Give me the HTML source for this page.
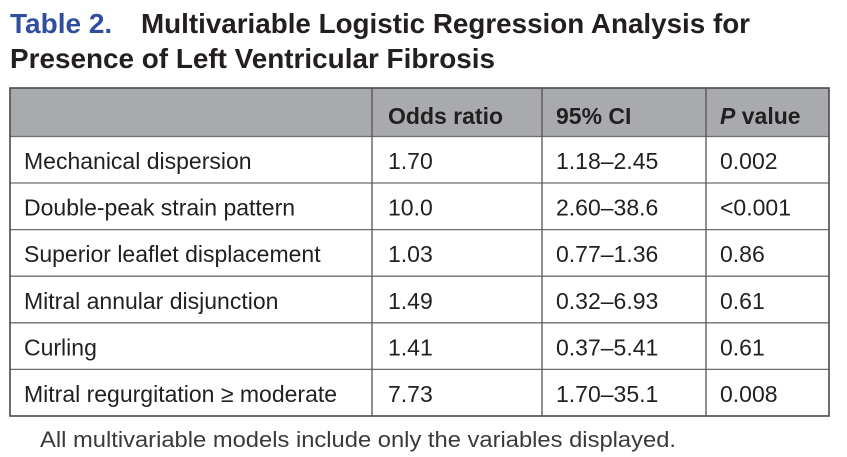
<!DOCTYPE html>
<html>
<head>
<meta charset="utf-8">
<style>
  html,body{margin:0;padding:0;background:#ffffff;}
  body{width:847px;height:457px;overflow:hidden;}
  svg{display:block;}
  text{font-family:"Liberation Sans", Arial, sans-serif;}
</style>
</head>
<body>
<svg width="847" height="457" viewBox="0 0 847 457" xmlns="http://www.w3.org/2000/svg">
  <!-- Title -->
  <text x="10" y="33" font-size="28" font-weight="bold" fill="#2f4f9e">Table 2.</text>
  <text x="141" y="33" font-size="28" font-weight="bold" fill="#231f20" textLength="609" lengthAdjust="spacingAndGlyphs">Multivariable Logistic Regression Analysis for</text>
  <text x="10" y="68" font-size="28" font-weight="bold" fill="#231f20" textLength="485" lengthAdjust="spacingAndGlyphs">Presence of Left Ventricular Fibrosis</text>

  <!-- Header background -->
  <rect x="10" y="88" width="819" height="48.5" fill="#a9aaad"/>

  <!-- Row lines -->
  <g stroke="#6e6e6e" stroke-width="1.3">
    <line x1="10" y1="136.5" x2="829" y2="136.5"/>
    <line x1="10" y1="183" x2="829" y2="183"/>
    <line x1="10" y1="229.6" x2="829" y2="229.6"/>
    <line x1="10" y1="276.2" x2="829" y2="276.2"/>
    <line x1="10" y1="322.8" x2="829" y2="322.8"/>
    <line x1="10" y1="369.4" x2="829" y2="369.4"/>
  </g>
  <!-- Column lines -->
  <g stroke="#555" stroke-width="1.3">
    <line x1="372" y1="88" x2="372" y2="416"/>
    <line x1="542" y1="88" x2="542" y2="416"/>
    <line x1="706" y1="88" x2="706" y2="416"/>
  </g>
  <!-- Outer border -->
  <rect x="10" y="88" width="819" height="328" fill="none" stroke="#4a4a4a" stroke-width="1.6"/>

  <!-- Header text -->
  <g font-size="23" font-weight="bold" fill="#231f20">
    <text x="388" y="124">Odds ratio</text>
    <text x="556" y="124">95% CI</text>
    <text x="720" y="124"><tspan font-style="italic">P</tspan> value</text>
  </g>

  <!-- Body -->
  <g font-size="23" fill="#231f20">
    <text x="24" y="169">Mechanical dispersion</text>
    <text x="388" y="169">1.70</text>
    <text x="556" y="169">1.18–2.45</text>
    <text x="720" y="169">0.002</text>

    <text x="24" y="215.6">Double-peak strain pattern</text>
    <text x="388" y="215.6">10.0</text>
    <text x="556" y="215.6">2.60–38.6</text>
    <text x="720" y="215.6">&lt;0.001</text>

    <text x="24" y="262.2">Superior leaflet displacement</text>
    <text x="388" y="262.2">1.03</text>
    <text x="556" y="262.2">0.77–1.36</text>
    <text x="720" y="262.2">0.86</text>

    <text x="24" y="308.8">Mitral annular disjunction</text>
    <text x="388" y="308.8">1.49</text>
    <text x="556" y="308.8">0.32–6.93</text>
    <text x="720" y="308.8">0.61</text>

    <text x="24" y="355.4">Curling</text>
    <text x="388" y="355.4">1.41</text>
    <text x="556" y="355.4">0.37–5.41</text>
    <text x="720" y="355.4">0.61</text>

    <text x="24" y="402">Mitral regurgitation ≥ moderate</text>
    <text x="388" y="402">7.73</text>
    <text x="556" y="402">1.70–35.1</text>
    <text x="720" y="402">0.008</text>
  </g>

  <!-- Footnote -->
  <text x="40" y="447" font-size="22" fill="#3a3a3a" textLength="636" lengthAdjust="spacingAndGlyphs">All multivariable models include only the variables displayed.</text>
</svg>
</body>
</html>
